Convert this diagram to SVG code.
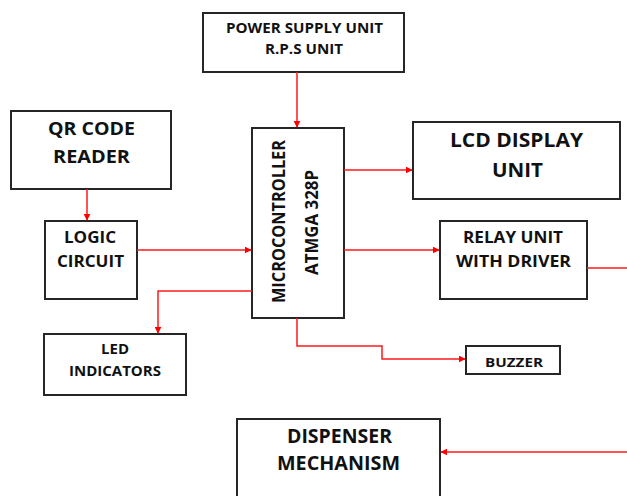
<svg xmlns="http://www.w3.org/2000/svg" width="627" height="496" viewBox="0 0 627 496">
<defs>
<marker id="ah" viewBox="0 0 10 10" refX="9" refY="5" markerWidth="7" markerHeight="7" markerUnits="userSpaceOnUse" orient="auto">
<path d="M0,0 L10,5 L0,10 z" fill="#ff0000"/>
</marker>
<style>
.box{fill:#fff;stroke:#262626;stroke-width:2}
.t{font-family:"Open Sans","Liberation Sans",sans-serif;font-weight:bold;fill:#111;text-anchor:middle}
.c{fill:none;stroke:#ff1a1a;stroke-width:1.5}
</style>
</defs>
<rect width="627" height="496" fill="#fff"/>
<g id="power"><rect class="box" x="203" y="13" width="201" height="59"/>
<text class="t" x="304.5" y="33" font-size="14" textLength="157" lengthAdjust="spacingAndGlyphs">POWER SUPPLY UNIT</text>
<text class="t" x="304" y="53.5" font-size="14" textLength="78" lengthAdjust="spacingAndGlyphs">R.P.S UNIT</text></g>
<g id="micro"><rect class="box" x="252" y="128" width="92" height="190"/>
<text class="t" font-size="17" transform="translate(285,221.5) rotate(-90)" textLength="163" lengthAdjust="spacingAndGlyphs">MICROCONTROLLER</text>
<text class="t" font-size="17" transform="translate(318,222.5) rotate(-90)" textLength="105" lengthAdjust="spacingAndGlyphs">ATMGA 328P</text></g>
<g id="qr"><rect class="box" x="11" y="111" width="160" height="78"/>
<text class="t" x="91.5" y="135" font-size="18.5" textLength="87" lengthAdjust="spacingAndGlyphs">QR CODE</text>
<text class="t" x="91.5" y="163" font-size="18.5" textLength="77" lengthAdjust="spacingAndGlyphs">READER</text></g>
<g id="logic"><rect class="box" x="45" y="221" width="92" height="78"/>
<text class="t" x="90" y="243" font-size="16" textLength="52" lengthAdjust="spacingAndGlyphs">LOGIC</text>
<text class="t" x="90.5" y="267" font-size="16" textLength="67" lengthAdjust="spacingAndGlyphs">CIRCUIT</text></g>
<g id="led"><rect class="box" x="44" y="334" width="142" height="61"/>
<text class="t" x="115" y="354" font-size="14" textLength="28" lengthAdjust="spacingAndGlyphs">LED</text>
<text class="t" x="115" y="376" font-size="14" textLength="92" lengthAdjust="spacingAndGlyphs">INDICATORS</text></g>
<g id="lcd"><rect class="box" x="413" y="122" width="207" height="77"/>
<text class="t" x="516.5" y="146.5" font-size="19" textLength="133" lengthAdjust="spacingAndGlyphs">LCD DISPLAY</text>
<text class="t" x="517.5" y="176.5" font-size="19" textLength="51" lengthAdjust="spacingAndGlyphs">UNIT</text></g>
<g id="relay"><rect class="box" x="440" y="221" width="147" height="78"/>
<text class="t" x="513" y="243" font-size="16" textLength="100" lengthAdjust="spacingAndGlyphs">RELAY UNIT</text>
<text class="t" x="513.5" y="266.5" font-size="16" textLength="115" lengthAdjust="spacingAndGlyphs">WITH DRIVER</text></g>
<g id="buzzer"><rect class="box" x="466" y="346" width="94" height="28"/>
<text class="t" x="514" y="366.5" font-size="13" textLength="58" lengthAdjust="spacingAndGlyphs">BUZZER</text></g>
<g id="dispenser"><rect class="box" x="237" y="419" width="203" height="80"/>
<text class="t" x="339.5" y="443" font-size="19.5" textLength="105" lengthAdjust="spacingAndGlyphs">DISPENSER</text>
<text class="t" x="338.5" y="470" font-size="19.5" textLength="123" lengthAdjust="spacingAndGlyphs">MECHANISM</text></g>
<g id="connectors">
<path class="c" d="M297,72 V127" marker-end="url(#ah)"/>
<path class="c" d="M87,189 V220" marker-end="url(#ah)"/>
<path class="c" d="M137,250 H251" marker-end="url(#ah)"/>
<path class="c" d="M252,291 H158 V333" marker-end="url(#ah)"/>
<path class="c" d="M344,170 H412" marker-end="url(#ah)"/>
<path class="c" d="M344,250 H439" marker-end="url(#ah)"/>
<path class="c" d="M587,268 H627"/>
<path class="c" d="M297,318 V346 H382 V359 H465" marker-end="url(#ah)"/>
<path class="c" d="M627,452 H441" marker-end="url(#ah)"/>
</g>
</svg>
